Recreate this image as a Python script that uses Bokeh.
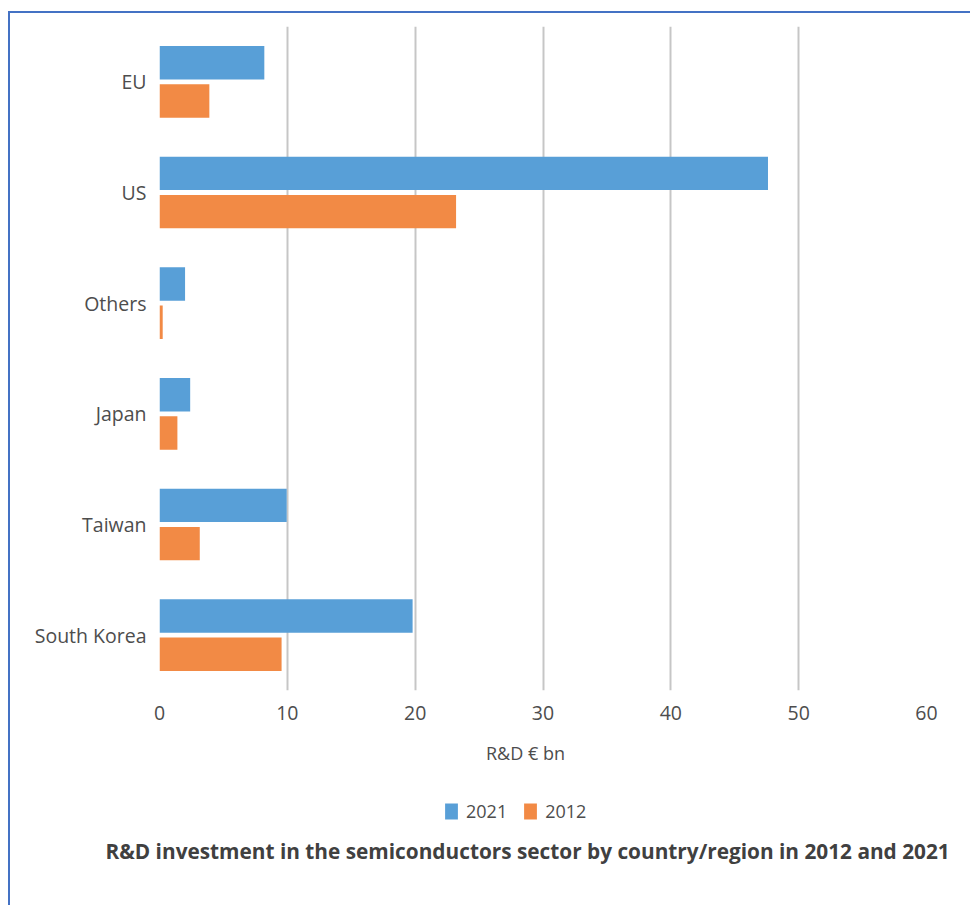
from bokeh.plotting import figure
from bokeh.layouts import column
from bokeh.models import FactorRange, Legend, LegendItem, Label, Title, ColumnDataSource, FixedTicker
from bokeh.transform import dodge
from bokeh.embed import file_html
from bokeh.resources import INLINE

regions = ["EU", "US", "Others", "Japan", "Taiwan", "South Korea"]
rd_2021 = [8.2, 47.6, 2.0, 2.4, 9.95, 19.8]
rd_2012 = [3.9, 23.2, 0.25, 1.4, 3.15, 9.55]
x_ticks = [0, 10, 20, 30, 40, 50, 60]
series = ["2021", "2012"]

FONT = "Open Sans"
TXT = "#4d4d4d"
BLUE = "#589FD7"
ORANGE = "#F28A45"
FRAME_BLUE = "#4472C4"

src = ColumnDataSource(dict(region=regions, v2021=rd_2021, v2012=rd_2012))

# ---------------- main chart ----------------
p = figure(width=970, height=734, output_backend="svg", toolbar_location=None,
           y_range=FactorRange(factors=list(reversed(regions)), range_padding=0),
           x_range=(0, 60))
p.min_border_left = 159
p.min_border_right = 44
p.min_border_top = 26
p.min_border_bottom = 44
p.outline_line_color = None
p.border_fill_color = None
p.background_fill_color = None
p.styles = {
    "background": (f"linear-gradient({FRAME_BLUE},{FRAME_BLUE}) 8px 11px / 100% 2px no-repeat, "
                   f"linear-gradient({FRAME_BLUE},{FRAME_BLUE}) 8px 11px / 2px 100% no-repeat, white"),
}

r1 = p.hbar(y=dodge("region", 0.173, range=p.y_range), right="v2021", left=0, height=0.302,
            source=src, fill_color=BLUE, line_color=None)
r2 = p.hbar(y=dodge("region", -0.173, range=p.y_range), right="v2012", left=0, height=0.302,
            source=src, fill_color=ORANGE, line_color=None)

p.ygrid.grid_line_color = None
p.xgrid.grid_line_color = "#c6c6c6"
p.xgrid.grid_line_width = 2
p.xaxis.ticker = FixedTicker(ticks=x_ticks)

for ax in (p.xaxis[0], p.yaxis[0]):
    ax.axis_line_color = None
    ax.major_tick_line_color = None
    ax.minor_tick_line_color = None
    ax.major_tick_out = 0
    ax.major_tick_in = 0
    ax.major_label_text_font = FONT
    ax.major_label_text_font_size = "19.5px"
    ax.major_label_text_color = TXT

p.yaxis.major_label_standoff = 13
p.xaxis.major_label_standoff = 15

# ---------------- footer: axis label, legend, caption ----------------
f = figure(width=970, height=171, output_backend="svg", toolbar_location=None,
           x_range=p.x_range, y_range=p.y_range,
           x_axis_location=None, y_axis_location=None)
f.min_border_left = 159
f.min_border_right = 44
f.min_border_top = 0
f.min_border_bottom = 75
f.outline_line_color = None
f.border_fill_color = None
f.background_fill_color = None
f.grid.grid_line_color = None
f.styles = {
    "background": (f"linear-gradient({FRAME_BLUE},{FRAME_BLUE}) 8px 0px / 2px 100% no-repeat, white"),
}

h1 = f.hbar(y=dodge("region", 0.173, range=p.y_range), right="v2021", left=0, height=0.302,
            source=src, fill_color=BLUE, line_color=None, visible=False)
h2 = f.hbar(y=dodge("region", -0.173, range=p.y_range), right="v2012", left=0, height=0.302,
            source=src, fill_color=ORANGE, line_color=None, visible=False)

f.add_layout(Label(x=366, y=78, x_units="screen", y_units="screen", text="R&D € bn",
                   text_font=FONT, text_font_size="18px", text_color=TXT,
                   text_align="center", text_baseline="middle"))

legend = Legend(items=[LegendItem(label=series[0], renderers=[h1]),
                       LegendItem(label=series[1], renderers=[h2])],
                orientation="horizontal", location=(284, 7),
                label_text_font=FONT, label_text_font_size="18px", label_text_color=TXT,
                glyph_width=16, glyph_height=20, spacing=15, label_standoff=7,
                border_line_color=None, background_fill_alpha=0,
                inactive_fill_alpha=0, margin=0, padding=0, label_height=20)
f.add_layout(legend)

caption = Title(text="R&D investment in the semiconductors sector by country/region in 2012 and 2021",
                align="left", offset=-54, vertical_align="top", standoff=12,
                text_font=FONT, text_font_size="20.8px", text_font_style="bold",
                text_color="#404040")
f.add_layout(caption, "below")

layout = column(p, f, spacing=0)
open("out.html", "w").write(file_html(layout, INLINE))
